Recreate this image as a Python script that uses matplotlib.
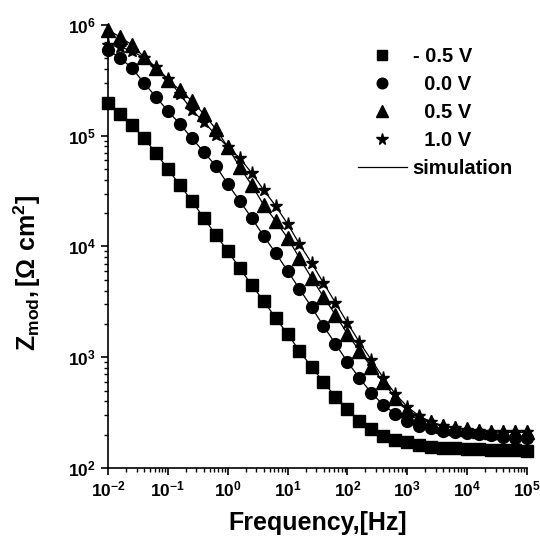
import numpy as np
import matplotlib
matplotlib.use('Agg')
import matplotlib.pyplot as plt
from matplotlib.ticker import LogLocator, NullFormatter

# Fonts: bold Arial-like everywhere, including the math text
plt.rcParams['font.family'] = 'Liberation Sans'
plt.rcParams['font.weight'] = 'bold'
plt.rcParams['mathtext.fontset'] = 'custom'
plt.rcParams['mathtext.rm'] = 'Liberation Sans:bold'
plt.rcParams['mathtext.it'] = 'Liberation Sans:bold'
plt.rcParams['mathtext.bf'] = 'Liberation Sans:bold'
plt.rcParams['axes.unicode_minus'] = False

# Frequencies (Hz), 5 points per decade from 1e-2 to 1e5
freq = [1.00e-2, 1.58e-2, 2.51e-2, 3.98e-2, 6.31e-2,
        1.00e-1, 1.58e-1, 2.51e-1, 3.98e-1, 6.31e-1,
        1.00e0, 1.58e0, 2.51e0, 3.98e0, 6.31e0,
        1.00e1, 1.58e1, 2.51e1, 3.98e1, 6.31e1,
        1.00e2, 1.58e2, 2.51e2, 3.98e2, 6.31e2,
        1.00e3, 1.58e3, 2.51e3, 3.98e3, 6.31e3,
        1.00e4, 1.58e4, 2.51e4, 3.98e4, 6.31e4,
        1.00e5]

# |Z| values (Ohm cm^2)
z_m05 = [1.98e5, 1.57e5, 1.25e5, 9.5e4, 7.0e4, 5.0e4, 3.59e4, 2.58e4, 1.81e4, 1.27e4,
         9.1e3, 6.4e3, 4.49e3, 3.22e3, 2.26e3, 1.62e3, 1.14e3, 817, 598, 438,
         341, 266, 225, 194, 179, 172, 161, 155, 152, 150,
         148, 147, 146, 145, 144, 143]
z_00 = [5.94e5, 5.04e5, 4.09e5, 2.99e5, 2.24e5, 1.67e5, 1.28e5, 9.5e4, 7.13e4, 5.33e4,
        3.67e4, 2.58e4, 1.81e4, 1.24e4, 8.74e3, 6.01e3, 4.13e3, 2.84e3, 1.91e3, 1.32e3,
        906, 650, 475, 371, 307, 266, 239, 230, 216, 211,
        208, 203, 199, 192, 188, 188]
z_05 = [9.01e5, 7.79e5, 6.59e5, 5.14e5, 4.09e5, 3.19e5, 2.59e5, 2.06e5, 1.57e5, 1.15e5,
        7.91e4, 5.22e4, 3.59e4, 2.37e4, 1.70e4, 1.19e4, 7.87e3, 5.2e3, 3.50e3, 2.41e3,
        1.62e3, 1.14e3, 817, 598, 429, 334, 289, 260, 239, 230,
        225, 216, 211, 211, 210, 210]
z_10 = [6.59e5, 6.33e5, 5.82e5, 5.04e5, 4.18e5, 3.25e5, 2.38e5, 1.71e5, 1.33e5, 1.02e5,
        7.91e4, 6.29e4, 4.61e4, 3.24e4, 2.32e4, 1.60e4, 1.05e4, 7.10e3, 4.68e3, 3.09e3,
        2.04e3, 1.37e3, 944, 650, 466, 356, 295, 260, 239, 230,
        220, 216, 211, 211, 210, 210]

series = [(z_m05, 's', 8, '- 0.5 V'),
          (z_00, 'o', 8.5, '  0.0 V'),
          (z_05, '^', 9.5, '  0.5 V'),
          (z_10, '*', 9.5, '  1.0 V')]

fig = plt.figure(figsize=(5.4, 5.41), dpi=100)
ax = fig.add_axes([0.2, 0.135, 0.776, 0.819])

# measured points
for z, m, ms, lab in series:
    ax.plot(freq, z, linestyle='none', marker=m, ms=ms, color='black',
            label=lab, clip_on=False, zorder=3)

# simulated fits drawn as thin lines
for i, (z, m, ms, lab) in enumerate(series):
    ax.plot(freq, z, '-', color='black', lw=0.9, zorder=2,
            label='simulation' if i == 0 else None)

ax.set_xscale('log')
ax.set_yscale('log')
ax.set_xlim(1e-2, 1e5)
ax.set_ylim(1e2, 1e6)

ax.xaxis.set_major_locator(LogLocator(base=10, numticks=20))
ax.xaxis.set_minor_locator(LogLocator(base=10, subs=np.arange(2, 10), numticks=20))
ax.yaxis.set_minor_locator(LogLocator(base=10, subs=np.arange(2, 10), numticks=20))
ax.xaxis.set_minor_formatter(NullFormatter())
ax.yaxis.set_minor_formatter(NullFormatter())

ax.spines['top'].set_visible(False)
ax.spines['right'].set_visible(False)
ax.spines['left'].set_linewidth(1.2)
ax.spines['bottom'].set_linewidth(1.2)
ax.tick_params(which='major', direction='out', length=5, width=1.2, labelsize=12.5)
ax.tick_params(which='minor', direction='out', length=3, width=1.0)

ax.set_xlabel('Frequency,[Hz]', fontsize=18, fontweight='bold', labelpad=8)
ax.set_ylabel(r'$\mathrm{Z_{mod}},[\Omega\ \mathrm{cm}^2]$', fontsize=18)
ax.yaxis.set_label_coords(-0.155, 0.44)

ax.legend(loc='upper left', bbox_to_anchor=(0.597, 0.95), frameon=False,
          fontsize=14.5, borderpad=0, borderaxespad=0, handlelength=2.4,
          handletextpad=0.3, labelspacing=0.45, markerscale=0.9)

plt.savefig('out.png', dpi=100)
